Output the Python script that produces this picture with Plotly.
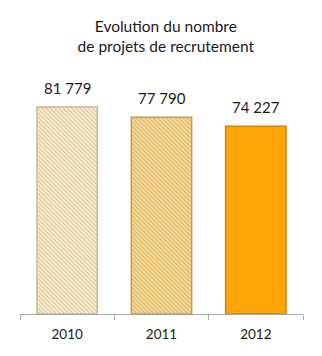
import plotly.graph_objects as go

years = ["2010", "2011", "2012"]
projets = [81779, 77790, 74227]
labels = ["81 779", "77 790", "74 227"]
fill_colors = ["#FBEAC8", "#F9D78C", "#FFA50A"]
edge_colors = ["#C9B894", "#C49A55", "#CF8600"]
hatch_shapes = ["\\", "\\", ""]
hatch_colors = ["#F0DBB2", "#EECB7E", "#FFA50A"]

pos = list(range(len(years)))

fig = go.Figure()
fig.add_trace(go.Bar(
    x=pos, y=projets, width=0.64,
    marker=dict(
        color=fill_colors,
        line=dict(color=edge_colors, width=1.5),
        pattern=dict(shape=hatch_shapes, fgcolor=hatch_colors,
                     size=3, solidity=0.2, fillmode="overlay"),
    ),
    hoverinfo="skip",
))

for p, v, t in zip(pos, projets, labels):
    fig.add_annotation(x=p, y=v, text=t, showarrow=False,
                       yanchor="bottom", yshift=8,
                       font=dict(family="Lato", size=15, color="#1a1a1a"))

fig.update_layout(
    width=322, height=356,
    margin=dict(l=20, r=19, t=61, b=42),
    paper_bgcolor="white", plot_bgcolor="white",
    showlegend=False,
    title=dict(
        text="Evolution du nombre<br>de projets de recrutement",
        x=0.515, xanchor="center", y=0.91, yanchor="top",
        font=dict(family="Lato", size=15.5, color="#1a1a1a"),
    ),
    xaxis=dict(
        range=[-0.5, len(years) - 0.5],
        tickmode="array", tickvals=pos, ticktext=years,
        showline=True, linecolor="#A6A6A6", linewidth=1,
        ticks="", showgrid=False, zeroline=False,
        ticklabelstandoff=8,
        tickfont=dict(family="Lato", size=13.5, color="#1a1a1a"),
        minor=dict(tickmode="array",
                   tickvals=[p - 0.5 for p in pos] + [pos[-1] + 0.5],
                   ticks="outside", ticklen=5, tickcolor="#A6A6A6",
                   showgrid=False),
    ),
    yaxis=dict(range=[0, 100000], showticklabels=False, showgrid=False,
               zeroline=False, showline=False, ticks=""),
)

fig.write_html("out.html")
